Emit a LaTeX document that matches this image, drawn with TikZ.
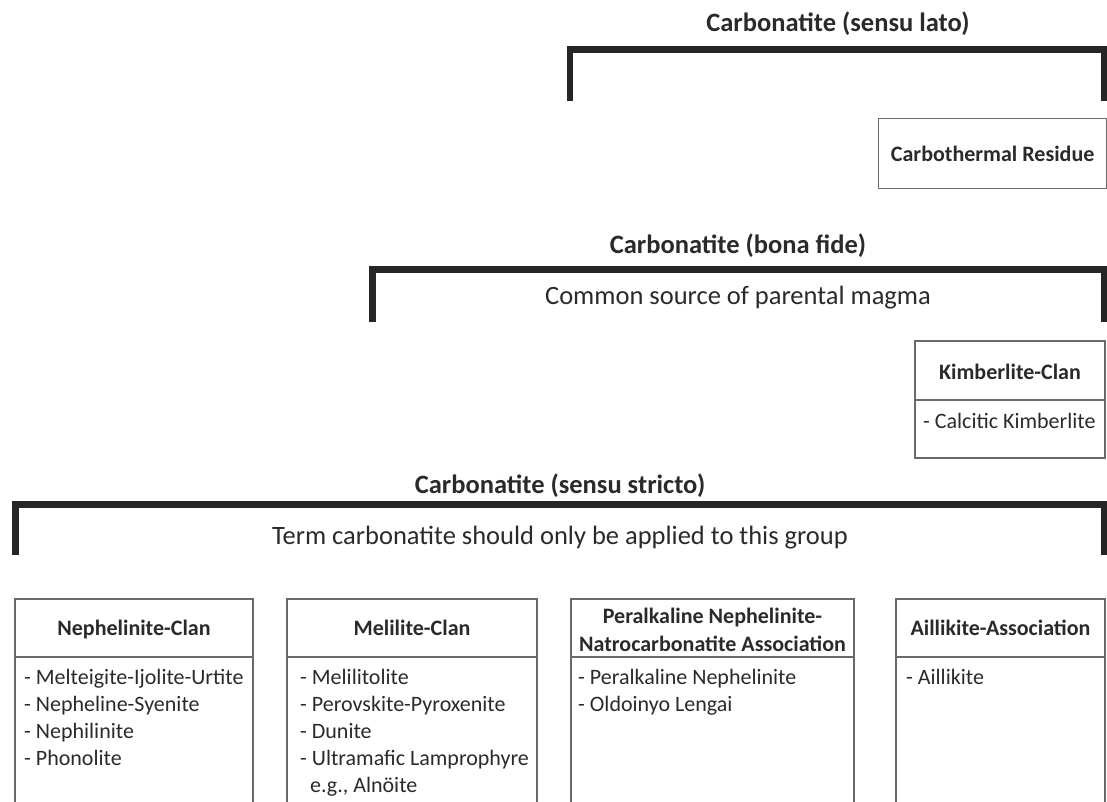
\documentclass[tikz,border=0pt]{standalone}
\usepackage{fontspec}
\setmainfont{Carlito}
\definecolor{txt}{HTML}{2A2A2A}
\definecolor{brk}{HTML}{262626}
\definecolor{bx}{HTML}{6A6A6A}
\begin{document}
\begin{tikzpicture}[x=1pt,y=-1pt,
  title/.style={font=\fontsize{26.5}{30}\selectfont\bfseries, text=txt, inner sep=0, anchor=base},
  sub/.style={font=\fontsize{26.5}{30}\selectfont, text=txt, inner sep=0, anchor=base},
  bracket/.style={draw=brk, line width=6.5pt, line join=miter},
  boxline/.style={draw=bx, line width=1.3pt},
  head/.style={font=\fontsize{22}{27}\selectfont\bfseries, text=txt, inner sep=0, anchor=base},
  item/.style={font=\fontsize{22}{27}\selectfont, text=txt, inner sep=0, anchor=base west},
]
\useasboundingbox (0,0) rectangle (1107,801);

% ---------- Carbonatite (sensu lato)
\node[title] (tlato) at (838,31) {Carbonatite (sensu lato)};
\coordinate (l1) at (570,101);
\coordinate (l2) at (1104,101);
\draw[bracket] (l1) -- (l1 |- 0,49.5) -- (l2 |- 0,49.5) -- (l2);

\node[boxline, minimum width=228pt, minimum height=70pt, anchor=north west, inner sep=0] (carbo) at (878,118) {};
\node[head] (carbot) at ([yshift=-8pt]carbo.center) {Carbothermal Residue};

% ---------- Carbonatite (bona fide)
\node[title] (tbona) at (738,253) {Carbonatite (bona fide)};
\coordinate (b1) at (372.5,322);
\coordinate (b2) at (1104,322);
\draw[bracket] (b1) -- (b1 |- 0,269.5) -- (b2 |- 0,269.5) -- (b2);
\node[sub] (common) at (738,304) {Common source of parental magma};

\coordinate (k1) at (915,341);
\coordinate (k2) at (1105,458);
\draw[boxline] (k1) rectangle (k2);
\draw[boxline] (k1 |- 0,400) -- (k2 |- 0,400);
\node[head] (kimh) at (1010,379) {Kimberlite-Clan};
\node[item] (kim1) at (923,428) {- Calcitic Kimberlite};

% ---------- Carbonatite (sensu stricto)
\node[title] (tstr) at (560,493) {Carbonatite (sensu stricto)};
\coordinate (s1) at (15.5,555);
\coordinate (s2) at (1104,555);
\draw[bracket] (s1) -- (s1 |- 0,504.5) -- (s2 |- 0,504.5) -- (s2);
\node[sub] (term) at (560,544) {Term carbonatite should only be applied to this group};

% ---------- bottom boxes
\foreach \nm/\xa/\xb in {neph/15/253, meli/287/537, pera/571/854, aill/896/1105}{
  \draw[boxline] (\xa,810) -- (\xa,599) -- (\xb,599) -- (\xb,810);
  \draw[boxline] (\xa,657) -- (\xb,657);
}

\node[head] (nephh) at (134,635) {Nephelinite-Clan};
\node[item] (neph1) at (24,684) {- Melteigite-Ijolite-Urtite};
\node[item] (neph2) at (24,711) {- Nepheline-Syenite};
\node[item] (neph3) at (24,738) {- Nephilinite};
\node[item] (neph4) at (24,765) {- Phonolite};

\node[head] (melih) at (412,635) {Melilite-Clan};
\node[item] (meli1) at (300,684) {- Melilitolite};
\node[item] (meli2) at (300,711) {- Perovskite-Pyroxenite};
\node[item] (meli3) at (300,738) {- Dunite};
\node[item] (meli4) at (300,765) {- Ultramafic Lamprophyre};
\node[item] (meli5) at (310,792) {e.g., Alnöite};

\node[head] (perah1) at (712.5,623) {Peralkaline Nephelinite-};
\node[head] (perah2) at (712.5,651) {Natrocarbonatite Association};
\node[item] (pera1) at (578,684) {- Peralkaline Nephelinite};
\node[item] (pera2) at (578,711) {- Oldoinyo Lengai};

\node[head] (aillh) at (1000.5,635) {Aillikite-Association};
\node[item] (aill1) at (906,684) {- Aillikite};
\end{tikzpicture}
\end{document}
